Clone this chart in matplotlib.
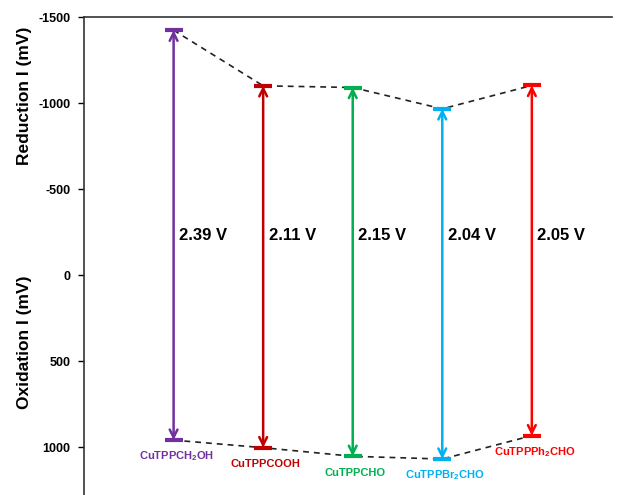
import matplotlib
matplotlib.use("Agg")
import matplotlib.pyplot as plt

plt.rcParams["font.family"] = ["Liberation Sans", "DejaVu Sans"]
plt.rcParams["mathtext.fontset"] = "custom"
plt.rcParams["mathtext.rm"] = "Liberation Sans"
plt.rcParams["mathtext.bf"] = "Liberation Sans:bold"

compounds = [
    "CuTPPCH$_\\mathbf{2}$OH",
    "CuTPPCOOH",
    "CuTPPCHO",
    "CuTPPBr$_\\mathbf{2}$CHO",
    "CuTPPPh$_\\mathbf{2}$CHO",
]
reduction = [-1425, -1102, -1092, -968, -1104]
oxidation = [958, 1002, 1052, 1068, 932]
gap_labels = ["2.39 V", "2.11 V", "2.15 V", "2.04 V", "2.05 V"]
colors = ["#7030A0", "#C00000", "#00B050", "#00B0F0", "#FF0000"]
yticks = [-1500, -1000, -500, 0, 500, 1000]

fig = plt.figure(figsize=(6.18, 4.95), dpi=100)
ax = fig.add_axes([0.136, 0.0, 0.855, 0.965])

xs = list(range(len(compounds)))

# dashed connectors
ax.plot(xs, reduction, ls=(0, (3.5, 3)), color="#222222", lw=1.2, zorder=1)
ax.plot(xs, oxidation, ls=(0, (3.5, 3)), color="#222222", lw=1.2, zorder=1)

for x, r, o, lab, c, name in zip(xs, reduction, oxidation, gap_labels, colors, compounds):
    ax.annotate("", xy=(x, r), xytext=(x, o),
                arrowprops=dict(arrowstyle="<->", color=c, lw=1.8,
                                mutation_scale=14, shrinkA=0, shrinkB=0),
                zorder=3)
    ax.hlines([r, o], x - 0.1, x + 0.1, color=c, lw=3, zorder=4)
    ax.text(x + 0.06, -230, lab, fontsize=12, fontweight="bold",
            ha="left", va="center")
    ax.text(x + 0.03, o + 95, name, fontsize=8, fontweight="bold", color=c,
            ha="center", va="center",
            family=["Liberation Sans Narrow", "Liberation Sans"])

ax.set_xlim(-1.0, 4.9)
ax.set_ylim(1277, -1500)
ax.set_xticks([])
ax.set_yticks(yticks)
ax.set_yticklabels([str(v) for v in yticks], fontsize=9, fontweight="bold")
ax.tick_params(axis="y", direction="out", length=4, width=1, pad=6)

for side in ["right", "bottom"]:
    ax.spines[side].set_visible(False)
ax.spines["left"].set_linewidth(1.2)
ax.spines["top"].set_linewidth(1.2)
ax.spines["left"].set_color("#333333")
ax.spines["top"].set_color("#333333")

fig.text(0.04, 1 - 96 / 495, "Reduction I (mV)", rotation=90, fontsize=12.5,
         fontweight="bold", ha="center", va="center")
fig.text(0.04, 1 - 342 / 495, "Oxidation I (mV)", rotation=90, fontsize=12.5,
         fontweight="bold", ha="center", va="center")

fig.savefig("out.png", dpi=100)
